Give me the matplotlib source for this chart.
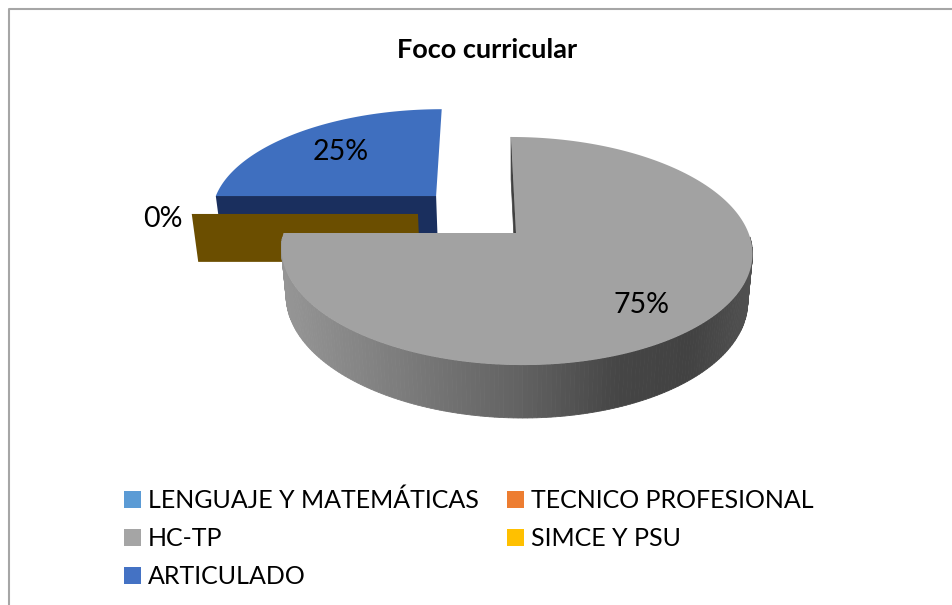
"""
Foco curricular: pie 3D con perspectiva, dibujado a mano porque matplotlib no lo trae.
"""
import numpy as np
import matplotlib
matplotlib.use("Agg")
import matplotlib.pyplot as plt
from matplotlib.patches import Patch, Polygon

categories = ["LENGUAJE Y MATEMÁTICAS", "TECNICO PROFESIONAL", "HC-TP", "SIMCE Y PSU", "ARTICULADO"]
shares = [0, 0, 75, 0, 25]
pct_labels = ["25%", "75%", "0%"]
colors = ["#5b9bd5", "#ed7d31", "#a5a5a5", "#ffc000", "#4472c4"]

plt.rcParams["font.family"] = ["Lato", "DejaVu Sans"]

# ---------------- proyeccion ----------------
CX, CY = 516, 233      # centro de la cara superior
A, B = 232.5, 111.2
K = 0.158              # perspectiva
SKEW = 5.8
DZ = 46.8              # grosor
BOTTOM_SCALE = 0.98


def project(u, v, bottom=False):
    u, v = np.asarray(u, float), np.asarray(v, float)
    s = BOTTOM_SCALE if bottom else 1.0
    w = 1 - K * v
    x = CX + s * (A * u + SKEW * v) / w
    y = CY + (s * B * v + (DZ if bottom else 0)) / w
    return np.column_stack([x, y])


def disk(theta):
    # theta en grados, horario desde las 12
    t = np.radians(theta)
    return np.sin(t), -np.cos(t)


def top_face(start, end, ou=0.0, ov=0.0):
    th = np.linspace(start, end, 200)
    u, v = disk(th)
    u = np.r_[ou, u + ou]
    v = np.r_[ov, v + ov]
    return project(u, v)


fig = plt.figure(figsize=(9.53, 6.05), dpi=100)
ax = fig.add_axes([0, 0, 1, 1])
ax.set_xlim(0, 953)
ax.set_ylim(605, 0)
ax.axis("off")

# marco del grafico
ax.plot([9.5, 9.5, 953], [605, 8.5, 8.5], color="#a6a6a6", lw=1.5, solid_capstyle="butt")

bounds = np.cumsum([0] + shares) * 360 / sum(shares)
grey_start, grey_end = bounds[2], bounds[3]
blue_start, blue_end = bounds[4], bounds[5]

# ---------------- ARTICULADO (separado) ----------------
OU_B, OV_B = -0.354, -0.351
c_l = (OU_B - 1, OV_B)
c_r = (OU_B, OV_B)
side = np.vstack([project(*c_l), project(*c_r),
                  project(*c_r, bottom=True), project(*c_l, bottom=True)])
ax.add_patch(Polygon(side, closed=True, fc="#1a2f5e", ec="none"))
ax.add_patch(Polygon(top_face(blue_start, blue_end, OU_B, OV_B), closed=True, fc="#3f6fbf", ec="none"))

# ---------------- SIMCE Y PSU (0 %, solo se ve la cara) ----------------
OU_G, OV_G = -0.429, -0.176
g_l = (OU_G - 1, OV_G)
g_r = (OU_G, OV_G)
gold = np.vstack([project(*g_l), project(*g_r),
                  project(*g_r, bottom=True), project(*g_l, bottom=True)])
gold[2:, 1] += 2
ax.add_patch(Polygon(gold, closed=True, fc="#6b4e00", ec="none"))

# ---------------- HC-TP ----------------
# cara interior a las 12, casi de canto
sliver = np.vstack([project(0, -1), project(0, 0),
                    project(0, 0, bottom=True), project(0, -1, bottom=True)])
ax.add_patch(Polygon(sliver, closed=True, fc="#404040", ec="#404040", lw=0.5))

# borde: degradado por tramos, solo la parte que mira al frente
x_stops = [285, 400, 520, 620, 690, 750]
g_stops = [0x95, 0x7c, 0x62, 0x45, 0x42, 0x50]
th = np.linspace(grey_start, grey_end, 271)
u, v = disk(th)
front = v > 0.02
top = project(u[front], v[front])
bot = project(u[front], v[front], bottom=True)
for i in range(len(top) - 1):
    g = np.interp(top[i:i + 2, 0].mean(), x_stops, g_stops) / 255
    quad = np.vstack([top[i], top[i + 1], bot[i + 1], bot[i]])
    ax.add_patch(Polygon(quad, closed=True, fc=(g, g, g), ec=(g, g, g), lw=0.6))
ax.add_patch(Polygon(top_face(grey_start, grey_end), closed=True, fc="#a2a2a2", ec="none"))

# ---------------- textos ----------------
ax.text(487, 50, "Foco curricular", ha="center", va="center", fontsize=19.5, fontweight="bold")
ax.text(341, 152, pct_labels[0], ha="center", va="center", fontsize=20.5)
ax.text(642, 305, pct_labels[1], ha="center", va="center", fontsize=20.5)
ax.text(163, 219, pct_labels[2], ha="center", va="center", fontsize=20.5)

# leyenda: matplotlib llena por columnas
handles = [Patch(fc=c, ec="none") for c in colors]
order = [0, 2, 4, 1, 3]
ax.legend([handles[i] for i in order], [categories[i] for i in order], ncol=2,
          loc="upper left", bbox_to_anchor=(124 / 953, 1 - 489 / 605), frameon=False,
          fontsize=18, borderpad=0, borderaxespad=0, handlelength=0.68, handleheight=0.68,
          handletextpad=0.28, labelspacing=0.6, columnspacing=1.12)

fig.savefig("out.png", dpi=100)
